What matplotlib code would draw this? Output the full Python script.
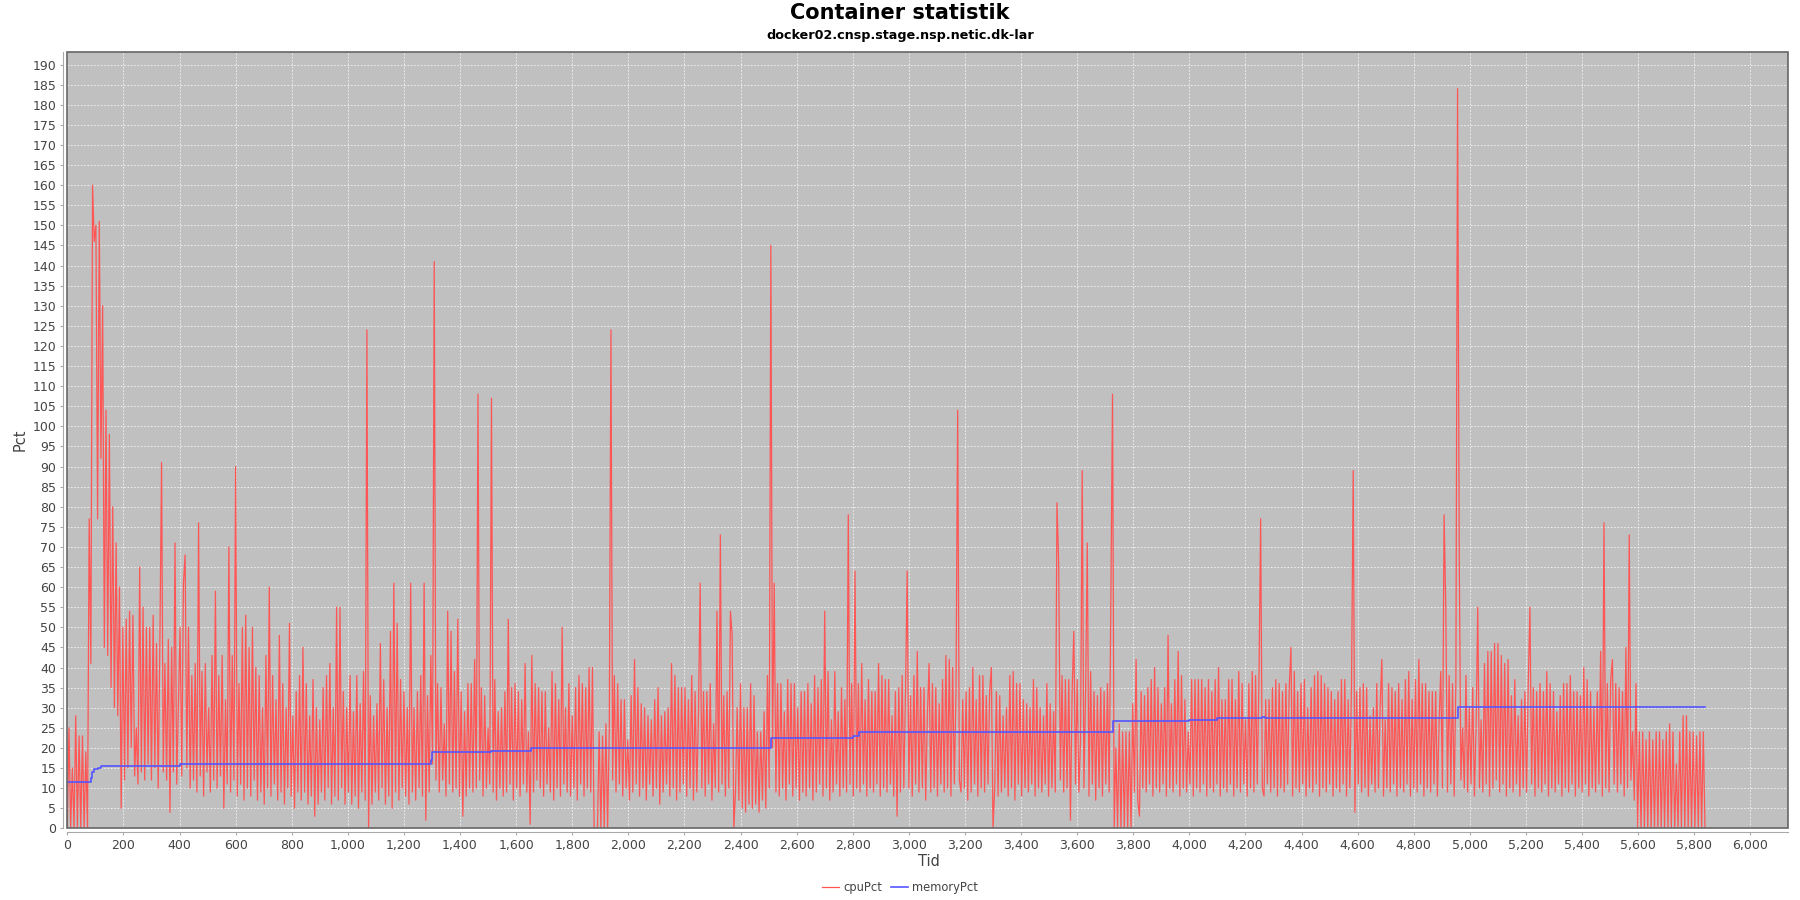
import numpy as np
import matplotlib.pyplot as plt
from matplotlib.ticker import MultipleLocator, FuncFormatter
from matplotlib.patches import Rectangle

sample_step = 6
cpu_pct = [
    0, 25, 0, 15, 0, 28, 0, 23, 0, 23, 0, 19, 0, 77, 41, 160, 146, 150, 77, 151,
    92, 130, 45, 104, 43, 98, 35, 80, 30, 71, 28, 60, 5, 50, 12, 52, 15, 54, 20, 53,
    13, 25, 11, 65, 14, 55, 12, 50, 16, 50, 12, 53, 15, 46, 10, 46, 91, 14, 41, 12,
    47, 4, 45, 14, 71, 11, 30, 50, 13, 61, 68, 15, 50, 10, 38, 12, 41, 9, 76, 13,
    39, 8, 41, 14, 30, 9, 43, 12, 59, 10, 38, 13, 43, 5, 32, 11, 70, 9, 43, 12,
    90, 8, 36, 11, 50, 7, 53, 10, 45, 8, 50, 12, 40, 7, 38, 9, 30, 6, 43, 10,
    60, 8, 38, 11, 32, 7, 48, 9, 36, 6, 30, 10, 51, 8, 28, 5, 34, 9, 38, 7,
    45, 9, 36, 6, 28, 8, 37, 3, 30, 6, 27, 9, 35, 7, 38, 10, 41, 6, 30, 8,
    55, 7, 55, 10, 34, 6, 30, 9, 38, 6, 29, 8, 38, 5, 31, 9, 39, 7, 124, 0,
    33, 6, 28, 9, 31, 7, 46, 10, 37, 6, 30, 8, 49, 5, 61, 9, 51, 7, 37, 10,
    34, 8, 30, 6, 61, 9, 30, 7, 34, 10, 38, 8, 61, 2, 33, 9, 43, 16, 141, 12,
    36, 9, 35, 12, 26, 8, 54, 11, 49, 9, 39, 10, 52, 8, 34, 3, 29, 8, 36, 10,
    36, 9, 42, 10, 108, 12, 35, 8, 33, 10, 25, 11, 107, 9, 37, 7, 29, 10, 30, 8,
    34, 9, 52, 11, 35, 7, 36, 10, 34, 8, 32, 11, 41, 9, 24, 1, 43, 9, 36, 12,
    35, 10, 34, 8, 34, 11, 25, 9, 39, 7, 36, 10, 32, 8, 50, 11, 30, 9, 36, 8,
    28, 10, 35, 7, 38, 11, 36, 8, 35, 10, 40, 9, 40, 0, 0, 0, 24, 0, 23, 0,
    26, 0, 24, 124, 12, 38, 9, 36, 11, 32, 8, 32, 10, 22, 7, 33, 9, 42, 11, 35,
    8, 31, 10, 30, 7, 28, 11, 27, 8, 32, 10, 35, 6, 28, 9, 29, 11, 30, 8, 41,
    10, 38, 7, 35, 9, 35, 11, 35, 8, 32, 10, 38, 7, 34, 9, 29, 61, 10, 34, 8,
    34, 11, 36, 7, 26, 10, 54, 9, 73, 11, 33, 8, 34, 10, 54, 48, 0, 9, 30, 7,
    36, 5, 30, 4, 30, 6, 36, 5, 33, 6, 24, 4, 24, 7, 29, 5, 38, 10, 145, 20,
    61, 9, 36, 8, 36, 10, 29, 7, 37, 11, 36, 8, 36, 10, 30, 7, 34, 9, 34, 8,
    36, 10, 31, 7, 38, 9, 35, 11, 37, 8, 54, 10, 39, 7, 27, 9, 39, 11, 29, 8,
    35, 10, 32, 9, 78, 11, 36, 8, 64, 10, 36, 9, 41, 11, 32, 8, 37, 10, 34, 9,
    34, 11, 41, 8, 38, 10, 37, 9, 37, 11, 28, 8, 34, 3, 35, 9, 38, 10, 34, 64,
    10, 33, 8, 38, 11, 44, 9, 35, 10, 35, 7, 28, 41, 9, 36, 10, 35, 8, 31, 11,
    37, 9, 43, 10, 42, 8, 40, 11, 34, 104, 12, 9, 32, 10, 34, 7, 35, 9, 40, 11,
    32, 8, 38, 10, 38, 9, 33, 11, 34, 40, 0, 10, 34, 8, 33, 9, 28, 10, 30, 8,
    38, 10, 39, 7, 36, 11, 36, 8, 32, 10, 31, 9, 30, 11, 37, 8, 35, 10, 30, 9,
    28, 11, 36, 8, 31, 10, 29, 9, 81, 66, 12, 38, 9, 37, 10, 37, 2, 34, 49, 11,
    37, 9, 22, 89, 10, 34, 71, 8, 39, 11, 34, 7, 33, 10, 35, 8, 34, 11, 36, 9,
    56, 108, 0, 20, 0, 26, 0, 24, 0, 24, 0, 24, 0, 31, 9, 42, 7, 3, 34, 10,
    33, 9, 35, 11, 37, 8, 40, 10, 35, 9, 31, 11, 35, 8, 48, 10, 31, 9, 37, 11,
    44, 8, 38, 10, 32, 9, 24, 11, 37, 8, 37, 10, 37, 9, 37, 11, 35, 8, 37, 10,
    34, 9, 37, 11, 40, 8, 32, 10, 32, 9, 37, 11, 37, 8, 32, 10, 39, 9, 36, 11,
    27, 8, 36, 10, 39, 9, 38, 11, 37, 77, 10, 8, 32, 11, 32, 9, 35, 10, 37, 8,
    36, 10, 34, 9, 36, 11, 35, 45, 8, 39, 10, 34, 9, 36, 11, 37, 8, 30, 10, 35,
    9, 38, 11, 39, 8, 38, 10, 36, 9, 35, 11, 34, 8, 32, 10, 34, 9, 37, 11, 37,
    8, 32, 10, 36, 89, 4, 34, 11, 35, 9, 36, 10, 35, 8, 28, 11, 30, 9, 36, 10,
    30, 42, 8, 27, 10, 36, 9, 35, 11, 34, 8, 36, 10, 32, 9, 37, 11, 39, 8, 32,
    10, 37, 9, 42, 11, 36, 8, 36, 10, 34, 9, 34, 11, 34, 8, 26, 39, 10, 78, 55,
    9, 38, 11, 36, 8, 37, 184, 67, 12, 25, 10, 38, 9, 30, 11, 35, 8, 25, 55, 10,
    27, 9, 41, 11, 44, 8, 44, 10, 46, 12, 46, 9, 43, 11, 41, 8, 42, 10, 33, 9,
    37, 11, 28, 8, 32, 10, 34, 9, 36, 55, 11, 35, 8, 34, 10, 36, 9, 34, 11, 39,
    8, 36, 10, 34, 9, 29, 11, 33, 8, 36, 10, 36, 9, 38, 11, 34, 8, 34, 10, 33,
    9, 40, 11, 37, 8, 34, 10, 30, 9, 34, 11, 44, 8, 76, 10, 36, 9, 37, 42, 11,
    36, 9, 35, 11, 34, 8, 45, 10, 73, 12, 24, 7, 36, 0, 24, 0, 24, 0, 22, 0,
    24, 0, 22, 0, 24, 0, 24, 0, 22, 0, 24, 0, 26, 0, 24, 0, 16, 0, 24, 0,
    28, 0, 28, 0, 24, 0, 24, 0, 23, 0, 24, 0, 24, 0,
]

# memoryPct as step levels (Tid where the level starts)
mem_tid = [0, 84, 88, 95, 108, 120, 200, 400, 1296, 1300, 1510, 1654, 2510,
           2800, 2822, 3727, 4000, 4100, 4258, 4268, 4956, 5838]
mem_pct = [11.4, 12.6, 13.9, 14.8, 15.1, 15.4, 15.6, 15.9, 17.0, 19.0, 19.2,
           20.1, 22.5, 23.0, 23.9, 26.8, 26.9, 27.4, 27.7, 27.4, 30.2, 30.2]

tid = np.arange(len(cpu_pct)) * sample_step

plt.rcParams['font.family'] = ['DejaVu Sans']
W, H = 1800, 900
fig = plt.figure(figsize=(18, 9), dpi=100)
left, right, top, bottom = 67.3, 1788.3, 51.7, 828.3
ax = fig.add_axes([left / W, 1 - bottom / H, (right - left) / W, (bottom - top) / H])
ax.set_facecolor('#c0c0c0')

ax.plot(tid, cpu_pct, color='#ff5555', lw=0.9, label='cpuPct')
ax.plot(mem_tid, mem_pct, color='#5555ff', lw=1.2, drawstyle='steps-post', label='memoryPct')

ax.set_xlim(0, 6135)
ax.set_ylim(0, 193.2)
ax.xaxis.set_major_locator(MultipleLocator(200))
ax.yaxis.set_major_locator(MultipleLocator(5))
ax.xaxis.set_major_formatter(FuncFormatter(lambda v, p: f'{int(round(v)):,}'))
ax.yaxis.set_major_formatter(FuncFormatter(lambda v, p: f'{int(round(v))}'))
ax.grid(True, color='white', lw=0.6, linestyle=(0, (2, 2)), alpha=0.85)
ax.set_axisbelow(True)

for s in ['top', 'right']:
    ax.spines[s].set_visible(False)
for s in ['left', 'bottom']:
    ax.spines[s].set_position(('outward', 3))
    ax.spines[s].set_color('#a8a8a8')
ax.add_patch(Rectangle((0, 0), 1, 1, transform=ax.transAxes, fill=False,
                       ec='#666666', lw=1.2, zorder=5, clip_on=False))
ax.tick_params(direction='out', length=2, width=0.8, color='#a8a8a8',
               labelsize=9, labelcolor='#444444', pad=3)

fig.text(0.5, 1 - 13 / H, 'Container statistik', ha='center', va='center',
         fontsize=15, fontweight='bold')
fig.text(0.5, 1 - 35 / H, 'docker02.cnsp.stage.nsp.netic.dk-lar', ha='center',
         va='center', fontsize=9.2, fontweight='bold')
fig.text(20 / W, 1 - 440 / H, 'Pct', rotation=90, ha='center', va='center',
         fontsize=10.5, color='#444444')
fig.text(929 / W, 1 - 861 / H, 'Tid', ha='center', va='center',
         fontsize=10.5, color='#444444')

fig.legend(loc='center', bbox_to_anchor=(0.5, 1 - 888 / H), ncol=2, frameon=False,
           fontsize=8.3, handlelength=1.5, handletextpad=0.4, columnspacing=0.7,
           labelcolor='#444444')

fig.savefig('out.png', dpi=100)
